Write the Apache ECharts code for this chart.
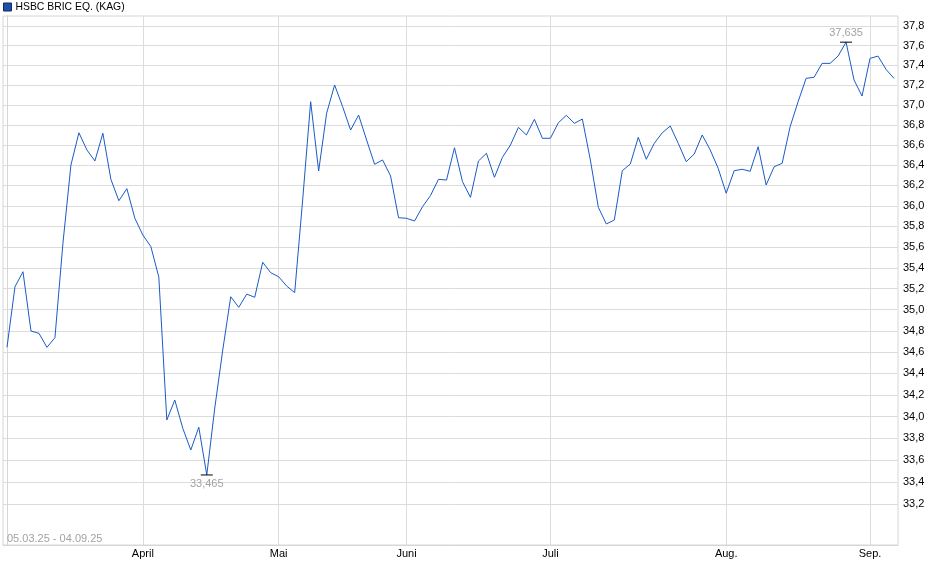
<!DOCTYPE html>
<html>
<head>
<meta charset="utf-8">
<script src="https://cdn.jsdelivr.net/npm/echarts@6/dist/echarts.min.js"></script>
<style>
  html, body { margin: 0; padding: 0; background: #fff; }
  #chart { width: 940px; height: 579px; }
</style>
</head>
<body>
<div id="chart"></div>
<script>
// Kurs je Handelstag, 05.03.25 - 04.09.25
var prices = [
  34.644, 35.219, 35.362, 34.798, 34.776, 34.644, 34.735, 35.636, 36.401, 36.721,
  36.550, 36.441, 36.716, 36.260, 36.050, 36.168, 35.879, 35.716, 35.605, 35.311,
  33.968, 34.152, 33.891, 33.692, 33.901, 33.465, 34.078, 34.619, 35.123, 35.022,
  35.148, 35.118, 35.453, 35.353, 35.314, 35.225, 35.162, 36.057, 37.032, 36.342,
  36.916, 37.200, 36.982, 36.748, 36.898, 36.649, 36.408, 36.451, 36.293, 35.884,
  35.879, 35.852, 35.992, 36.101, 36.260, 36.253, 36.572, 36.237, 36.083, 36.441,
  36.517, 36.280, 36.477, 36.599, 36.775, 36.699, 36.855, 36.666, 36.666, 36.821,
  36.895, 36.815, 36.858, 36.451, 35.986, 35.823, 35.862, 36.345, 36.411, 36.676,
  36.458, 36.616, 36.721, 36.788, 36.616, 36.434, 36.510, 36.699, 36.550, 36.368,
  36.123, 36.345, 36.359, 36.339, 36.582, 36.204, 36.384, 36.418, 36.781, 37.032,
  37.267, 37.278, 37.419, 37.419, 37.493, 37.635, 37.250, 37.089, 37.470, 37.493,
  37.358, 37.267
];

// Index des ersten Handelstags im Monat
var monthStart = [17, 34, 50, 68, 90, 108];
var monthNames = ["April", "Mai", "Juni", "Juli", "Aug.", "Sep."];

var yTicks = [33.2, 33.4, 33.6, 33.8, 34.0, 34.2, 34.4, 34.6, 34.8, 35.0, 35.2, 35.4,
  35.6, 35.8, 36.0, 36.2, 36.4, 36.6, 36.8, 37.0, 37.2, 37.4, 37.6, 37.8];

var seriesName = "HSBC BRIC EQ. (KAG)";
var dateRange = "05.03.25 - 04.09.25";

var font = "Arial, 'Liberation Sans', sans-serif";

function komma(v, d) {
  return v.toFixed(d).replace(".", ",");
}

var lineData = prices.map(function (p, i) { return [i, p]; });
var xTicks = [0].concat(monthStart);

var myChart = echarts.init(document.getElementById("chart"), null, { renderer: "canvas" });

var option = {
  animation: false,
  backgroundColor: "#fff",
  textStyle: { fontFamily: font },
  title: {
    text: dateRange,
    left: 7,
    top: 533,
    padding: 0,
    textStyle: { fontSize: 11, fontWeight: "normal", color: "#a3a3a3", fontFamily: font }
  },
  legend: {
    left: 3,
    top: 2,
    padding: 0,
    itemWidth: 8,
    itemHeight: 8,
    itemGap: 4,
    icon: "rect",
    data: [seriesName],
    itemStyle: { color: "#1f4fa8", borderColor: "#0d2a66", borderWidth: 1 },
    textStyle: { fontSize: 10.4, color: "#000", fontFamily: font, padding: [0, 0, 0, -1] }
  },
  grid: {
    left: 3,
    top: 16,
    right: 42,
    bottom: 34,
    show: true,
    borderColor: "#d6d6d6",
    borderWidth: 1,
    containLabel: false
  },
  xAxis: {
    type: "value",
    min: -0.5,
    max: prices.length - 0.5,
    axisLine: { show: true, lineStyle: { color: "#d6d6d6" } },
    axisTick: { show: false, customValues: xTicks },
    axisLabel: {
      customValues: monthStart,
      color: "#000",
      fontSize: 11,
      margin: 3,
      fontFamily: font,
      formatter: function (v) {
        var k = monthStart.indexOf(Math.round(v));
        return k >= 0 ? monthNames[k] : "";
      }
    },
    splitLine: { show: true, lineStyle: { color: "#dcdcdc", width: 1 } }
  },
  yAxis: {
    type: "log",
    position: "right",
    min: 32.835,
    max: 37.903,
    axisLine: { show: true, lineStyle: { color: "#d6d6d6" } },
    axisTick: { show: false, customValues: yTicks },
    axisLabel: {
      customValues: yTicks,
      color: "#000",
      fontSize: 11,
      margin: 5,
      fontFamily: font,
      formatter: function (v) { return komma(v, 1); }
    },
    splitLine: { show: true, lineStyle: { color: "#dcdcdc", width: 1 } }
  },
  series: [
    {
      name: seriesName,
      type: "line",
      data: lineData,
      showSymbol: false,
      symbol: "none",
      lineStyle: { color: "#1a5bc6", width: 1 },
      itemStyle: { color: "#1f4fa8" },
      markPoint: {
        symbol: "rect",
        symbolSize: [12, 1],
        itemStyle: { color: "#000" },
        label: {
          color: "#a3a3a3",
          fontSize: 11,
          fontFamily: font,
          formatter: function (p) { return komma(p.value, 3); }
        },
        data: [
          { type: "max", label: { position: "top", distance: 3 } },
          { type: "min", label: { position: "bottom", distance: 3 } }
        ]
      }
    }
  ]
};

myChart.setOption(option);
</script>
</body>
</html>
